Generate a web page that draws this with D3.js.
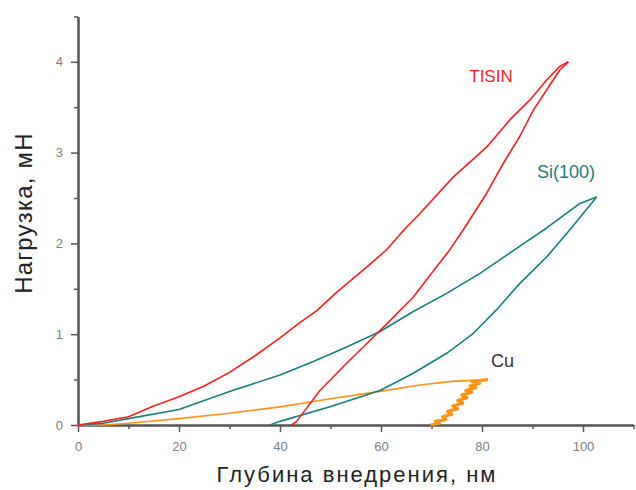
<!DOCTYPE html>
<html>
<head>
<meta charset="utf-8">
<script src="https://cdn.jsdelivr.net/npm/d3@7"></script>
<style>
  body { margin: 0; background: #fff; }
  text { font-family: Arial, "Liberation Sans", sans-serif; }
</style>
</head>
<body>
<svg id="chart" width="636" height="490"></svg>
<script>
// depth (nm), load (mN) pairs
var tisinLoad = [[0,0],[5,0.04],[10,0.09],[15,0.21],[20,0.31],[25,0.43],[30,0.58],[35,0.76],[40,0.96],[44,1.13],[47.3,1.26],[51.2,1.46],[57.8,1.77],[61.1,1.93],[64.4,2.14],[67.7,2.33],[74.3,2.73],[80.9,3.06],[85.5,3.36],[89.5,3.58],[92.8,3.8],[95.4,3.95],[97.1,4.0]];
var tisinUnload = [[97.1,4.0],[95.4,3.91],[92.8,3.69],[90.2,3.47],[87.5,3.18],[84.2,2.88],[80.9,2.55],[76.3,2.15],[73.5,1.92],[70.4,1.7],[66.4,1.41],[61.8,1.15],[57.8,0.93],[53.2,0.68],[47.9,0.38],[43.3,0.04],[42.3,0]];
var siLoad = [[0,0],[5,0.02],[10,0.07],[20,0.17],[30,0.37],[40,0.55],[46.6,0.7],[53.2,0.86],[59.8,1.03],[66.4,1.25],[73,1.45],[79.6,1.67],[86.2,1.92],[92.8,2.17],[99.4,2.44],[102.7,2.51]];
var siUnload = [[102.7,2.51],[97.4,2.15],[92.8,1.85],[87.5,1.56],[82.9,1.27],[78.3,1.01],[73,0.79],[66.4,0.57],[59.8,0.38],[49.9,0.2],[40,0.04],[38,0]];
var cuLoad = [[0,0],[5,0.0],[10,0.02],[20,0.07],[30,0.13],[40,0.2],[50,0.29],[59.8,0.37],[67.7,0.44],[74,0.48],[81.2,0.5]];
var cuUnload = [[81.2,0.5],[78,0.48],[79.6,0.46],[77.6,0.43],[78.8,0.41],[76.8,0.38],[78,0.36],[76,0.33],[77,0.3],[75.2,0.27],[76.2,0.24],[74.2,0.21],[75.2,0.18],[73.2,0.15],[74,0.12],[72.2,0.09],[72.8,0.06],[70.8,0.04],[71.6,0.02],[69.8,0]];

var xTicks = [0, 20, 40, 60, 80, 100];
var xMinor = [10, 30, 50, 70, 90, 110];
var yTicks = [0, 1, 2, 3, 4];
var yMinor = [0.5, 1.5, 2.5, 3.5, 4.5];

var svg = d3.select('#chart');
var x = d3.scaleLinear().domain([0, 110]).range([78, 633.5]);
var y = d3.scaleLinear().domain([0, 4.5]).range([425, 16.4]);

var axisColor = '#555';
var labelColor = '#808080';

function styleAxis(sel) {
	sel.select('.domain').attr('stroke', axisColor).attr('stroke-width', 2);
	sel.selectAll('.tick line').attr('stroke', axisColor).attr('stroke-width', 1.5);
	sel.selectAll('.tick text').attr('fill', labelColor).style('font-size', '13px');
}

// minor ticks first, then major axes on top
svg.append('g')
	.attr('transform', 'translate(0,425)')
	.call(d3.axisBottom(x).tickValues(xMinor).tickFormat('').tickSize(4).tickSizeOuter(0))
	.call(styleAxis);
svg.append('g')
	.attr('transform', 'translate(78,0)')
	.call(d3.axisLeft(y).tickValues(yMinor).tickFormat('').tickSize(4).tickSizeOuter(0))
	.call(styleAxis);

svg.append('g')
	.attr('transform', 'translate(0,425)')
	.call(d3.axisBottom(x).tickValues(xTicks).tickFormat(d3.format('d')).tickSize(7).tickSizeOuter(0).tickPadding(9.5))
	.call(styleAxis);
svg.append('g')
	.attr('transform', 'translate(78,0)')
	.call(d3.axisLeft(y).tickValues(yTicks).tickFormat(d3.format('d')).tickSize(7).tickSizeOuter(0).tickPadding(8))
	.call(styleAxis);

var line = d3.line()
	.x(function(d) { return x(d[0]); })
	.y(function(d) { return y(d[1]); });

function drawCurve(data, color, width) {
	svg.append('path')
		.datum(data)
		.attr('d', line)
		.attr('fill', 'none')
		.attr('stroke', color)
		.attr('stroke-width', width)
		.attr('stroke-linejoin', 'round');
}

var red = '#ff1e1e';
var teal = '#168080';
var orange = '#ff9414';

drawCurve(cuLoad, orange, 1.6);
drawCurve(cuUnload, orange, 3.2);
drawCurve(siLoad, teal, 1.6);
drawCurve(siUnload, teal, 1.6);
drawCurve(tisinLoad, red, 1.6);
drawCurve(tisinUnload, red, 1.6);

// curve labels
svg.append('text').attr('x', 491).attr('y', 82).attr('text-anchor', 'middle')
	.attr('fill', red).style('font-size', '17px').text('TISIN');
svg.append('text').attr('x', 537).attr('y', 178)
	.attr('fill', teal).style('font-size', '18px').text('Si(100)');
svg.append('text').attr('x', 491).attr('y', 367)
	.attr('fill', '#333').style('font-size', '18px').text('Cu');

// axis titles
svg.append('text').attr('x', 357).attr('y', 482).attr('text-anchor', 'middle')
	.attr('fill', '#222').style('font-size', '22px').style('letter-spacing', '2px')
	.text('Глубина внедрения, нм');
svg.append('text')
	.attr('transform', 'translate(31.5,213) rotate(-90)')
	.attr('text-anchor', 'middle')
	.attr('fill', '#222').style('font-size', '24px').style('letter-spacing', '1.2px')
	.text('Нагрузка, мН');
</script>
</body>
</html>
